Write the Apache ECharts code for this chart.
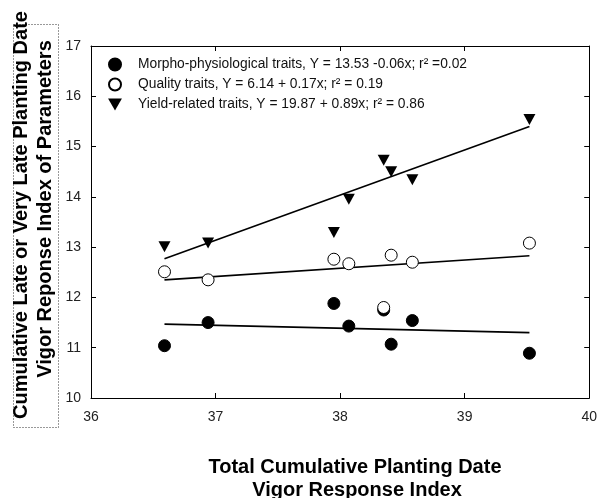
<!DOCTYPE html>
<html>
<head>
<meta charset="utf-8">
<script src="https://cdn.jsdelivr.net/npm/echarts@6/dist/echarts.min.js"></script>
<style>
  html, body { margin: 0; padding: 0; background: #fff; }
  #chart { width: 600px; height: 498px; }
</style>
</head>
<body>
<div id="chart"></div>
<script>
// Vigor response indices per planting-date treatment
const vigorIndex = [36.59, 36.94, 37.95, 38.07, 38.35, 38.41, 38.58, 39.52];
const morphoValues = [11.04, 11.50, 11.88, 11.43, 11.75, 11.07, 11.54, 10.89];
const qualityValues = [12.51, 12.35, 12.76, 12.67, 11.80, 12.84, 12.70, 13.08];
const yieldValues = [13.01, 13.08, 13.29, 13.95, 14.73, 14.50, 14.34, 15.54];

// Fitted regression lines, as start/end points
const fitX = [36.59, 39.52];
const morphoFit = [11.47, 11.30];
const qualityFit = [12.35, 12.83];
const yieldFit = [12.77, 15.40];

const seriesNames = [
  'Morpho-physiological traits, Y = 13.53 -0.06x; r\u00B2 =0.02',
  'Quality traits, Y = 6.14 + 0.17x; r\u00B2 = 0.19',
  'Yield-related traits, Y = 19.87 + 0.89x; r\u00B2 = 0.86'
];

const xTicks = [36, 37, 38, 39, 40];
const yTicks = [10, 11, 12, 13, 14, 15, 16, 17];

const FONT = "'Liberation Sans', Arial, sans-serif";
const TITLE_FONT = "bold 20px 'Liberation Sans', Arial, sans-serif";
const pair = (xs, ys) => xs.map((x, i) => [x, ys[i]]);
const downTriangle = 'path://M0,0 L12,0 L6,10.4 Z';

const chart = echarts.init(document.getElementById('chart'), null, { renderer: 'canvas' });

const axisCommon = {
  axisLine: { show: true, lineStyle: { color: '#000', width: 1 } },
  axisTick: { show: true, inside: true, length: 5, lineStyle: { color: '#000' } },
  splitLine: { show: false }
};

const fitLine = (ys) => ({
  type: 'line',
  data: pair(fitX, ys),
  showSymbol: false,
  symbol: 'none',
  silent: true,
  lineStyle: { color: '#000', width: 1.6 },
  z: 1
});

chart.setOption({
  animation: false,
  backgroundColor: '#fff',
  grid: { left: 91, right: 8, top: 46, bottom: 100, containLabel: false },
  xAxis: [
    Object.assign({
      type: 'value', position: 'bottom', min: xTicks[0], max: xTicks[xTicks.length - 1], interval: 1,
      axisLabel: { color: '#222', fontFamily: FONT, fontSize: 14, margin: 12 }
    }, axisCommon),
    Object.assign({
      type: 'value', position: 'top', min: xTicks[0], max: xTicks[xTicks.length - 1], interval: 1,
      axisLabel: { show: false }
    }, axisCommon)
  ],
  yAxis: [
    Object.assign({
      type: 'value', position: 'left', min: yTicks[0], max: yTicks[yTicks.length - 1], interval: 1,
      axisLabel: { color: '#222', fontFamily: FONT, fontSize: 14, margin: 10 }
    }, axisCommon),
    Object.assign({
      type: 'value', position: 'right', min: yTicks[0], max: yTicks[yTicks.length - 1], interval: 1,
      axisLabel: { show: false }
    }, axisCommon)
  ],
  legend: {
    data: seriesNames,
    orient: 'vertical',
    left: 103,
    top: 52,
    padding: 5,
    itemWidth: 24,
    itemHeight: 12,
    itemGap: 5,
    selectedMode: false,
    textStyle: { color: '#111', fontFamily: FONT, fontSize: 13.8, lineHeight: 15, padding: [0, 0, 0, 6] }
  },
  series: [
    fitLine(morphoFit),
    fitLine(qualityFit),
    fitLine(yieldFit),
    {
      name: seriesNames[0], type: 'scatter', data: pair(vigorIndex, morphoValues),
      symbol: 'circle', symbolSize: 12,
      itemStyle: { color: '#000', borderColor: '#000', borderWidth: 1, opacity: 1 }, z: 3
    },
    {
      name: seriesNames[1], type: 'scatter', data: pair(vigorIndex, qualityValues),
      symbol: 'circle', symbolSize: 12,
      itemStyle: { color: '#fff', borderColor: '#000', borderWidth: 1, opacity: 1 }, z: 4
    },
    {
      name: seriesNames[2], type: 'scatter', data: pair(vigorIndex, yieldValues),
      symbol: downTriangle, symbolSize: [12, 11],
      itemStyle: { color: '#000', opacity: 1 }, z: 3
    }
  ],
  graphic: [
    // dotted frame round the vertical title
    {
      type: 'rect', left: 11, top: 22, silent: true,
      shape: { width: 45, height: 403 },
      style: { fill: 'none', stroke: '#333', lineWidth: 1, lineDash: [1, 2] }
    },
    {
      type: 'text', x: 21, y: 215, rotation: Math.PI / 2, silent: true,
      style: {
        text: 'Cumulative Late or Very Late Planting Date',
        font: TITLE_FONT, fill: '#000', align: 'center', verticalAlign: 'middle'
      }
    },
    {
      type: 'text', x: 45, y: 209, rotation: Math.PI / 2, silent: true,
      style: {
        text: 'Vigor Reponse Index of Parameters',
        font: TITLE_FONT, fill: '#000', align: 'center', verticalAlign: 'middle'
      }
    },
    {
      type: 'text', x: 355, y: 467, silent: true,
      style: {
        text: 'Total Cumulative Planting Date',
        font: TITLE_FONT, fill: '#000', align: 'center', verticalAlign: 'middle'
      }
    },
    {
      type: 'text', x: 357, y: 490, silent: true,
      style: {
        text: 'Vigor Response Index',
        font: TITLE_FONT, fill: '#000', align: 'center', verticalAlign: 'middle'
      }
    }
  ]
});
</script>
</body>
</html>
